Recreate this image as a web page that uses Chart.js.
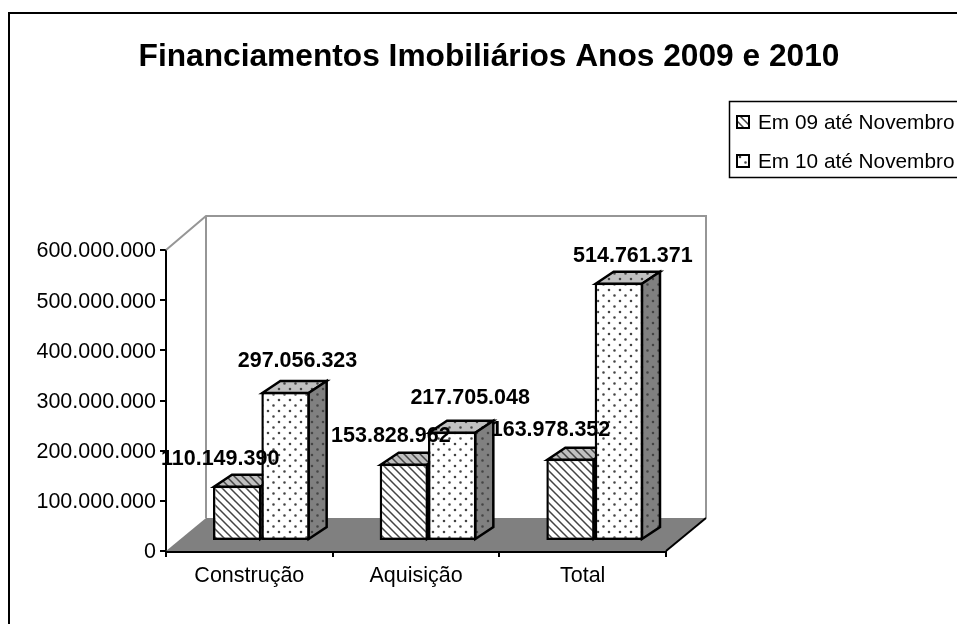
<!DOCTYPE html>
<html lang="pt">
<head>
<meta charset="utf-8">
<title>Financiamentos Imobiliários</title>
<style>
  html, body { margin: 0; padding: 0; background: #fff; overflow: hidden; }
  canvas { display: block; }
</style>
<script src="https://cdn.jsdelivr.net/npm/chart.js@4"></script>
</head>
<body>
<canvas id="chartFinanciamentos" width="957" height="624"></canvas>
<script>
const CHART_TITLE = 'Financiamentos Imobiliários Anos 2009 e 2010';
const CATEGORIAS = ['Construção', 'Aquisição', 'Total'];
const SERIES_NOMES = ['Em 09 até Novembro', 'Em 10 até Novembro'];
const VALORES_09 = [110149390, 153828962, 163978352];
const VALORES_10 = [297056323, 217705048, 514761371];

// where each value label sits relative to the top-centre of its bar front
const ROTULO_OFFSET_09 = [[-17, -27], [-13, -28], [-20, -29]];
const ROTULO_OFFSET_10 = [[12, -31], [18, -34], [14, -27]];

const FONT = "'Liberation Sans', Arial, sans-serif";
const GRAY_WALL = '#969696';
const GRAY_FLOOR = '#808080';
const GRAY_TOP = '#c0c0c0';

// box depth of the whole plot, and how far bars stand off the front edge
const PLOT_DX = 40, PLOT_DY = 33;
const BAR_DX = 12, BAR_DY = 10;
const FACE_DX = 18, FACE_DY = 12;

const formatBR = (v) => String(v).replace(/\B(?=(\d{3})+$)/g, '.');

function hatchPattern(bg) {
  const c = document.createElement('canvas');
  c.width = c.height = 8;
  const g = c.getContext('2d');
  g.fillStyle = bg;
  g.fillRect(0, 0, 8, 8);
  g.strokeStyle = '#444';
  g.lineWidth = 1.5;
  g.beginPath();
  g.moveTo(-2, -2); g.lineTo(10, 10);
  g.moveTo(-6, 2); g.lineTo(2, 10);
  g.moveTo(6, -2); g.lineTo(10, 2);
  g.stroke();
  return g.createPattern(c, 'repeat');
}

function dotPattern(bg) {
  const c = document.createElement('canvas');
  c.width = c.height = 11;
  const g = c.getContext('2d');
  g.fillStyle = bg;
  g.fillRect(0, 0, 11, 11);
  g.fillStyle = '#444';
  g.beginPath();
  g.arc(3, 3, 1.3, 0, Math.PI * 2);
  g.arc(8.5, 8.5, 1.3, 0, Math.PI * 2);
  g.fill();
  return g.createPattern(c, 'repeat');
}

const PATTERNS = [
  { front: hatchPattern('#fff'), top: hatchPattern(GRAY_TOP), side: hatchPattern(GRAY_FLOOR) },
  { front: dotPattern('#fff'), top: dotPattern(GRAY_TOP), side: dotPattern(GRAY_FLOOR) }
];

function poly(ctx, pts, fill, stroke, width) {
  ctx.beginPath();
  pts.forEach((p, i) => (i ? ctx.lineTo(p[0], p[1]) : ctx.moveTo(p[0], p[1])));
  ctx.closePath();
  if (fill) { ctx.fillStyle = fill; ctx.fill(); }
  if (stroke) { ctx.strokeStyle = stroke; ctx.lineWidth = width; ctx.lineJoin = 'miter'; ctx.stroke(); }
}

// outer frame, title and legend
const chromePlugin = {
  id: 'chrome',
  beforeDraw(chart) {
    const ctx = chart.ctx;
    ctx.save();
    ctx.fillStyle = '#fff';
    ctx.fillRect(0, 0, chart.width, chart.height);
    ctx.strokeStyle = '#000';
    ctx.lineWidth = 2;
    ctx.beginPath();
    ctx.moveTo(9, 640); ctx.lineTo(9, 13); ctx.lineTo(970, 13);
    ctx.stroke();

    ctx.fillStyle = '#000';
    ctx.font = 'bold 31.7px ' + FONT;
    ctx.textAlign = 'center';
    ctx.textBaseline = 'middle';
    ctx.fillText(CHART_TITLE, 489, 57);

    ctx.lineWidth = 1.5;
    ctx.strokeStyle = '#000';
    ctx.beginPath();
    ctx.moveTo(970, 101.5); ctx.lineTo(729.5, 101.5); ctx.lineTo(729.5, 177.5); ctx.lineTo(970, 177.5);
    ctx.stroke();

    ctx.font = '20.8px ' + FONT;
    ctx.textAlign = 'left';
    SERIES_NOMES.forEach((nome, i) => {
      const y = 122 + i * 39;
      ctx.fillStyle = PATTERNS[i].front;
      ctx.fillRect(737, y - 6, 12, 12);
      ctx.lineWidth = 2;
      ctx.strokeRect(737, y - 6, 12, 12);
      ctx.fillStyle = '#000';
      ctx.fillText(nome, 758, y + 1);
    });
    ctx.restore();
  }
};

// walls and floor, then the bars left to right so each one covers its neighbour's side
const boxPlugin = {
  id: 'box',
  beforeDatasetsDraw(chart) {
    const ctx = chart.ctx;
    const { left, right, top, bottom } = chart.chartArea;
    ctx.save();
    poly(ctx, [[left, bottom], [left + PLOT_DX, bottom - PLOT_DY], [right + PLOT_DX, bottom - PLOT_DY], [right, bottom]], GRAY_FLOOR);
    ctx.strokeStyle = GRAY_WALL;
    ctx.lineWidth = 2;
    ctx.beginPath();
    ctx.moveTo(left, top);
    ctx.lineTo(left + PLOT_DX, top - PLOT_DY - 1);
    ctx.lineTo(right + PLOT_DX, top - PLOT_DY - 1);
    ctx.lineTo(right + PLOT_DX, bottom - PLOT_DY);
    ctx.moveTo(left + PLOT_DX, top - PLOT_DY - 1);
    ctx.lineTo(left + PLOT_DX, bottom - PLOT_DY);
    ctx.stroke();
    ctx.strokeStyle = '#000';
    ctx.beginPath();
    ctx.moveTo(right, bottom);
    ctx.lineTo(right + PLOT_DX, bottom - PLOT_DY);
    ctx.stroke();
    ctx.restore();

    [0, 1].forEach((ds) => {
      const meta = chart.getDatasetMeta(ds);
      const pat = PATTERNS[ds];
      ctx.save();
      ctx.translate(BAR_DX, -BAR_DY);
      meta.data.forEach((bar) => {
        const { x, y, base, width } = bar.getProps(['x', 'y', 'base', 'width'], true);
        const l = x - width / 2 + 1, r = x + width / 2 - 1, t = y + 1, b = base - 1;
        poly(ctx, [[l, t], [l + FACE_DX, t - FACE_DY], [r + FACE_DX, t - FACE_DY], [r, t]], pat.top, '#000', 2.5);
        poly(ctx, [[r, t], [r + FACE_DX, t - FACE_DY], [r + FACE_DX, b - FACE_DY], [r, b]], pat.side, '#000', 2.5);
      });
      meta.controller.draw();
      ctx.restore();
    });
  },
  // the bars are already on the canvas by the time this runs
  beforeDatasetDraw() {
    return false;
  },
  afterDatasetsDraw(chart) {
    const ctx = chart.ctx;
    const offsets = [ROTULO_OFFSET_09, ROTULO_OFFSET_10];
    ctx.save();
    ctx.font = 'bold 21.5px ' + FONT;
    ctx.fillStyle = '#000';
    ctx.textAlign = 'center';
    ctx.textBaseline = 'middle';
    [0, 1].forEach((ds) => {
      const values = chart.data.datasets[ds].data;
      chart.getDatasetMeta(ds).data.forEach((bar, i) => {
        const { x, y } = bar.getProps(['x', 'y'], true);
        const off = offsets[ds][i];
        ctx.fillText(formatBR(values[i]), x + BAR_DX + off[0], y - BAR_DY + off[1]);
      });
    });
    ctx.restore();
  }
};

function createFinanciamentosChart() {
  const ctx = document.getElementById('chartFinanciamentos');
  if (!ctx) return;

  new Chart(ctx, {
    type: 'bar',
    data: {
      labels: CATEGORIAS,
      datasets: [
        {
          label: SERIES_NOMES[0],
          data: VALORES_09,
          backgroundColor: PATTERNS[0].front,
          borderColor: '#000',
          borderWidth: 2.5,
          borderSkipped: false
        },
        {
          label: SERIES_NOMES[1],
          data: VALORES_10,
          backgroundColor: PATTERNS[1].front,
          borderColor: '#000',
          borderWidth: 2.5,
          borderSkipped: false
        }
      ]
    },
    options: {
      responsive: false,
      animation: false,
      devicePixelRatio: 1,
      layout: { padding: { left: 0, top: 250, right: 291, bottom: 23 } },
      datasets: { bar: { categoryPercentage: 0.58, barPercentage: 1, clip: false } },
      plugins: {
        legend: { display: false },
        title: { display: false },
        tooltip: { enabled: false }
      },
      scales: {
        x: {
          afterFit: (s) => { s.height = 50; },
          border: { color: '#000', width: 3 },
          grid: { drawOnChartArea: false, color: '#000', lineWidth: 2, tickLength: 6 },
          ticks: { color: '#000', font: { family: FONT, size: 21.5 }, padding: 6, maxRotation: 0 }
        },
        y: {
          min: 0,
          max: 600000000,
          afterFit: (s) => { s.width = 166; },
          border: { color: '#000', width: 2 },
          grid: { drawOnChartArea: false, color: '#000', lineWidth: 2, tickLength: 6 },
          ticks: {
            color: '#000',
            stepSize: 100000000,
            font: { family: FONT, size: 21.5 },
            padding: 4,
            labelOffset: 1.5,
            callback: (v) => formatBR(v)
          }
        }
      }
    },
    plugins: [chromePlugin, boxPlugin]
  });
}

createFinanciamentosChart();
</script>
</body>
</html>
